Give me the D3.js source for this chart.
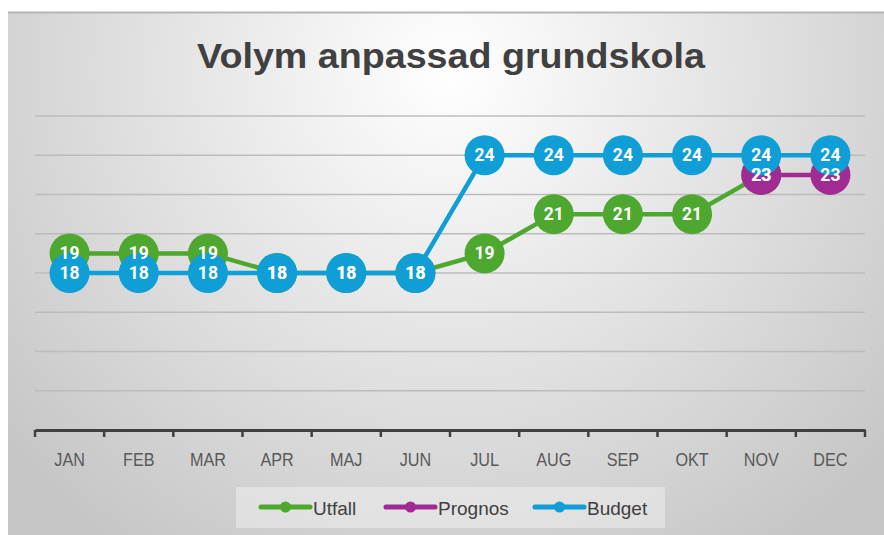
<!DOCTYPE html>
<html>
<head>
<meta charset="utf-8">
<script src="https://cdn.jsdelivr.net/npm/d3@7"></script>
<style>
  body { margin: 0; background: #fff; }
  svg { display: block; }
</style>
</head>
<body>
<div id="chart"></div>
<script>
// chart data
var months = ["JAN","FEB","MAR","APR","MAJ","JUN","JUL","AUG","SEP","OKT","NOV","DEC"];
var utfall  = [19, 19, 19, 18, 18, 18, 19, 21, 21, 21, 23, null];
var prognos = [null, null, null, null, null, null, null, null, null, null, 23, 23];
var budget  = [18, 18, 18, 18, 18, 18, 24, 24, 24, 24, 24, 24];
var seriesNames = ["Utfall", "Prognos", "Budget"];
var yTicks = [10, 12, 14, 16, 18, 20, 22, 24, 26];

var W = 884, H = 535;
var colors = ["#4ea72e", "#a02b93", "#0f9ed5"];
var sans = "'Liberation Sans', Arial, sans-serif";

var svg = d3.select("#chart").append("svg")
  .attr("width", W).attr("height", H);

var defs = svg.append("defs");
var grad = defs.append("radialGradient")
  .attr("id", "bg")
  .attr("gradientUnits", "userSpaceOnUse")
  .attr("cx", 450).attr("cy", 70).attr("r", 580);
grad.append("stop").attr("offset", "0%").attr("stop-color", "#ffffff");
grad.append("stop").attr("offset", "100%").attr("stop-color", "#c6c6c6");

// chart frame
svg.append("rect")
  .attr("x", 8).attr("y", 12).attr("width", 876).attr("height", 523)
  .attr("fill", "url(#bg)");
svg.append("line")
  .attr("x1", 8).attr("x2", 884).attr("y1", 12.5).attr("y2", 12.5)
  .attr("stroke", "#b5b5b5").attr("stroke-width", 2);

// title (narrow bold look: squeeze horizontally)
var title = svg.append("text")
  .attr("x", 0).attr("y", 0)
  .attr("text-anchor", "middle")
  .style("font-family", sans)
  .style("font-weight", "bold")
  .style("font-size", "35px")
  .attr("fill", "#404040")
  .text("Volym anpassad grundskola");
var tw = title.node().getComputedTextLength();
title.attr("transform", "translate(451,68) scale(" + (508 / tw) + ",1)");

var x = d3.scaleBand().domain(months).range([35, 865]).padding(0);
var y = d3.scaleLinear().domain([10, 26]).range([430, 116]);
var cx = function(m) { return x(m) + x.bandwidth() / 2; };

// gridlines
svg.append("g").selectAll("line")
  .data(yTicks.filter(function(d) { return d > 10; }))
  .enter().append("line")
  .attr("x1", 35).attr("x2", 865)
  .attr("y1", function(d) { return y(d); })
  .attr("y2", function(d) { return y(d); })
  .attr("stroke", "#bcbcbc").attr("stroke-width", 1.5);

// x axis
var xAxis = svg.append("g")
  .attr("transform", "translate(0," + y(10) + ")")
  .call(d3.axisBottom(x).tickSize(0).tickPadding(23));
xAxis.select(".domain").attr("stroke", "#404040").attr("stroke-width", 3);
xAxis.selectAll("text")
  .style("font-family", sans)
  .style("font-size", "18px")
  .attr("fill", "#595959")
  .attr("transform", "scale(0.9,1)");
svg.append("g").selectAll("line")
  .data(months.concat(["_end"]))
  .enter().append("line")
  .attr("x1", function(d, i) { return i < months.length ? x(d) : x.range()[1]; })
  .attr("x2", function(d, i) { return i < months.length ? x(d) : x.range()[1]; })
  .attr("y1", y(10)).attr("y2", y(10) + 7)
  .attr("stroke", "#404040").attr("stroke-width", 2.5);

var allSeries = [utfall, prognos, budget];
var line = d3.line()
  .defined(function(d) { return d != null; })
  .x(function(d, i) { return cx(months[i]); })
  .y(function(d) { return y(d); });

allSeries.forEach(function(vals, s) {
  var g = svg.append("g");
  g.append("path")
    .datum(vals)
    .attr("fill", "none")
    .attr("stroke", colors[s])
    .attr("stroke-width", 4.5)
    .attr("d", line);
  g.selectAll("circle")
    .data(vals.map(function(v, i) { return {v: v, m: months[i]}; }).filter(function(d) { return d.v != null; }))
    .enter().append("circle")
    .attr("cx", function(d) { return cx(d.m); })
    .attr("cy", function(d) { return y(d.v); })
    .attr("r", 20)
    .attr("fill", colors[s]);
});

// data labels on top
allSeries.forEach(function(vals, s) {
  svg.append("g").selectAll("text")
    .data(vals.map(function(v, i) { return {v: v, m: months[i]}; }).filter(function(d) { return d.v != null; }))
    .enter().append("text")
    .attr("x", function(d) { return cx(d.m); })
    .attr("y", function(d) { return y(d.v) + 6; })
    .attr("text-anchor", "middle")
    .style("font-family", "Roboto, 'Open Sans', sans-serif")
    .style("font-weight", "bold")
    .style("font-size", "17.5px")
    .attr("fill", "#ffffff")
    .text(function(d) { return d.v; });
});

// legend
var lg = svg.append("g");
lg.append("rect")
  .attr("x", 236).attr("y", 487).attr("width", 429).attr("height", 41)
  .attr("fill", "#ffffff").attr("fill-opacity", 0.35);
var legX = [261, 386, 535];
seriesNames.forEach(function(name, s) {
  var g = lg.append("g").attr("transform", "translate(" + legX[s] + ",507)");
  g.append("line").attr("x1", 0).attr("x2", 49).attr("y1", 0).attr("y2", 0)
    .attr("stroke", colors[s]).attr("stroke-width", 5).attr("stroke-linecap", "round");
  g.append("circle").attr("cx", 24.5).attr("cy", 0).attr("r", 5.5).attr("fill", colors[s]);
  g.append("text").attr("x", 52).attr("y", 8)
    .style("font-family", sans)
    .style("font-size", "19px")
    .attr("fill", "#404040")
    .text(name);
});
</script>
</body>
</html>
